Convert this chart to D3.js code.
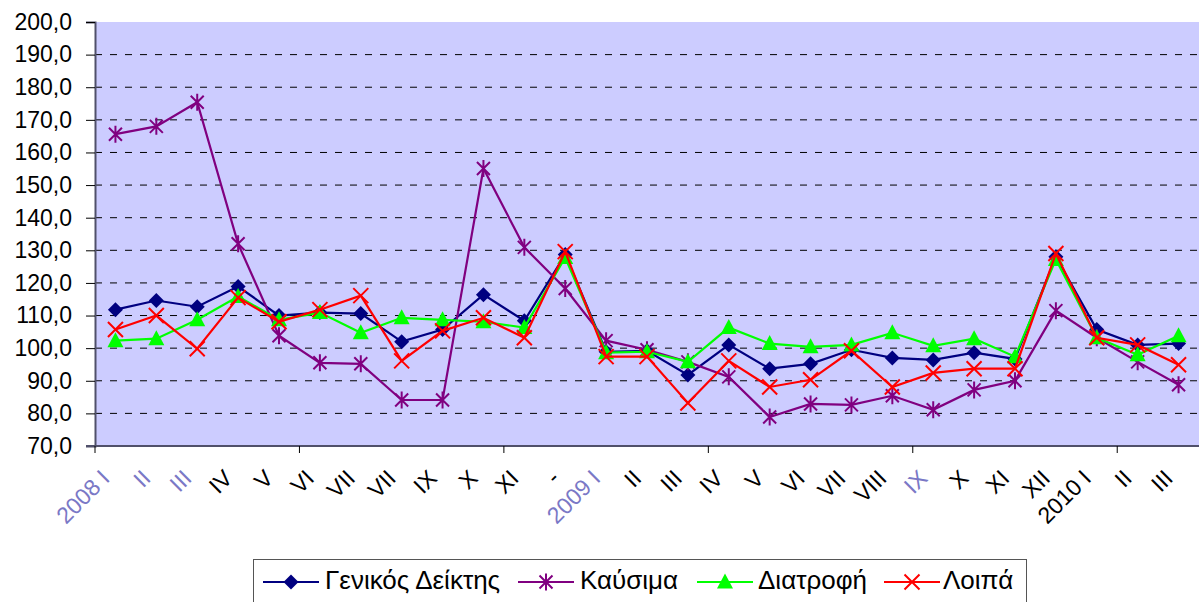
<!DOCTYPE html>
<html lang="el">

<head>
    <meta charset="UTF-8">
    <title>Δείκτες 2008-2010</title>
    <script src="https://d3js.org/d3.v7.min.js"></script>
    <style>
        body {
            margin: 0;
            background: #fff;
            font-family: 'Liberation Sans', Arial, sans-serif;
        }

        svg {
            display: block;
        }

        .grid line {
            stroke: #000;
            stroke-dasharray: 7, 8;
        }
    </style>
</head>

<body>
    <svg width="1203" height="602"></svg>
    <script>
        const width = 1203;
        const height = 602;

        // category labels (as printed on the chart)
        const months = ["2008 I", "II", "III", "IV", "V", "VI", "VII", "VII", "IX", "X", "XI", "-",
            "2009 I", "II", "III", "IV", "V", "VI", "VII", "VIII", "IX", "X", "XI", "XII",
            "2010 I", "II", "III"];
        // blurry labels in the original get a soft blue tone
        const fadedLabels = [0, 1, 2, 12, 20];

        const general = [111.8, 114.6, 112.7, 118.9, 110.0, 110.9, 110.6, 102.0, 105.7, 116.4, 108.4, 128.7,
            98.9, 99.2, 91.8, 101.0, 93.7, 95.2, 99.5, 97.0, 96.4, 98.6, 96.7, 128.0, 105.7, 101.0, 101.4];
        const fuel = [165.6, 168.0, 175.4, 132.0, 103.8, 95.5, 95.2, 84.1, 84.1, 155.1, 130.9, 118.3,
            102.3, 99.5, 95.8, 91.2, 78.9, 82.9, 82.6, 85.4, 81.1, 87.2, 90.0, 111.5, 103.2, 95.8, 88.8];
        const food = [102.3, 102.9, 108.7, 115.8, 108.7, 110.9, 104.7, 109.3, 108.7, 108.1, 106.3, 127.8,
            98.6, 98.9, 95.8, 106.3, 101.4, 100.4, 101.0, 104.7, 100.7, 102.9, 97.4, 127.2, 103.2, 98.0, 103.8];
        const other = [105.7, 110.0, 99.8, 115.5, 108.1, 111.8, 116.1, 96.1, 105.3, 109.3, 103.2, 129.6,
            97.4, 97.4, 83.2, 96.1, 88.1, 90.3, 99.2, 88.1, 92.4, 93.7, 93.7, 129.0, 103.2, 101.0, 94.9];

        const yTicks = d3.range(70, 201, 10);

        const series = [
            { name: "Γενικός Δείκτης", values: general, color: "#000080", symbol: "diamond" },
            { name: "Καύσιμα", values: fuel, color: "#800080", symbol: "star" },
            { name: "Διατροφή", values: food, color: "#00ff00", symbol: "triangle" },
            { name: "Λοιπά", values: other, color: "#ff0000", symbol: "cross" }
        ];

        const plot = { left: 95, right: 1199, top: 22, bottom: 446 };

        const x = d3.scaleBand()
            .domain(d3.range(months.length))
            .range([plot.left, plot.right]);

        const y = d3.scaleLinear()
            .domain([70, 200])
            .range([plot.bottom, plot.top]);

        const svg = d3.select("svg").attr("viewBox", `0 0 ${width} ${height}`);

        svg.append("rect")
            .attr("x", plot.left)
            .attr("y", plot.top)
            .attr("width", plot.right - plot.left)
            .attr("height", plot.bottom - plot.top)
            .attr("fill", "#ccccff");

        // dashed gridlines
        svg.append("g")
            .attr("class", "grid")
            .selectAll("line")
            .data(yTicks.filter(d => d > 70 && d < 200))
            .join("line")
            .attr("x1", plot.left)
            .attr("x2", plot.right)
            .attr("y1", d => y(d))
            .attr("y2", d => y(d));

        // y axis
        const gy = svg.append("g")
            .attr("transform", `translate(${plot.left},0)`)
            .call(d3.axisLeft(y)
                .tickValues(yTicks)
                .tickSize(9)
                .tickPadding(14)
                .tickFormat(d => d3.format(".1f")(d).replace(".", ",")));
        gy.select(".domain").attr("stroke", "#50506a").attr("stroke-width", 2);
        gy.selectAll(".tick line").attr("stroke", "#000");
        gy.selectAll("text")
            .attr("font-size", 23)
            .attr("font-family", "'Liberation Sans', Arial, sans-serif")
            .attr("fill", "#000");

        // x axis: line + tick marks every 5 categories
        const gx = svg.append("g")
            .attr("transform", `translate(0,${plot.bottom})`);
        gx.append("line")
            .attr("x1", plot.left - 9)
            .attr("x2", plot.right)
            .attr("stroke", "#50506a")
            .attr("stroke-width", 2);
        gx.selectAll(".xt")
            .data(d3.range(0, months.length + 1, 5))
            .join("line")
            .attr("class", "xt")
            .attr("x1", d => plot.left + d * x.step())
            .attr("x2", d => plot.left + d * x.step())
            .attr("y1", 0)
            .attr("y2", 7)
            .attr("stroke", "#000");

        gx.selectAll(".xl")
            .data(months)
            .join("text")
            .attr("class", "xl")
            .attr("transform", (d, i) => `translate(${x(i) + x.bandwidth() / 2 - 10},${28}) rotate(-45)`)
            .attr("text-anchor", "end")
            .attr("dy", "0.35em")
            .attr("font-size", 23)
            .attr("fill", (d, i) => fadedLabels.includes(i) ? "#7a78c6" : "#000")
            .text(d => d);

        const cx = i => x(i) + x.bandwidth() / 2;

        const line = d3.line()
            .x((d, i) => cx(i))
            .y(d => y(d));

        function drawMarker(g, symbol, color) {
            if (symbol === "diamond") {
                g.append("path")
                    .attr("d", "M0,-7.5L7.5,0L0,7.5L-7.5,0Z")
                    .attr("fill", color);
            } else if (symbol === "triangle") {
                g.append("path")
                    .attr("d", "M0,-8.5L8,6.5L-8,6.5Z")
                    .attr("fill", color);
            } else if (symbol === "cross") {
                g.append("path")
                    .attr("d", "M-7.5,-7.5L7.5,7.5M7.5,-7.5L-7.5,7.5")
                    .attr("stroke", color)
                    .attr("stroke-width", 2)
                    .attr("fill", "none");
            } else if (symbol === "star") {
                g.append("path")
                    .attr("d", "M-6.5,-6.5L6.5,6.5M6.5,-6.5L-6.5,6.5M0,-8.5L0,8.5")
                    .attr("stroke", color)
                    .attr("stroke-width", 2)
                    .attr("fill", "none");
            }
        }

        series.forEach(s => {
            const g = svg.append("g");
            g.append("path")
                .datum(s.values)
                .attr("d", line)
                .attr("fill", "none")
                .attr("stroke", s.color)
                .attr("stroke-width", 2.2);
            g.selectAll(".m")
                .data(s.values)
                .join("g")
                .attr("class", "m")
                .attr("transform", (d, i) => `translate(${cx(i)},${y(d)})`)
                .each(function () { drawMarker(d3.select(this), s.symbol, s.color); });
        });

        // legend
        const legend = svg.append("g");
        legend.append("rect")
            .attr("x", 253.5)
            .attr("y", 559.5)
            .attr("width", 773)
            .attr("height", 50)
            .attr("fill", "#fff")
            .attr("stroke", "#555");

        const legendX = [263, 518, 697, 884];
        const legendTextX = [325, 580, 758, 943];
        series.forEach((s, i) => {
            const g = legend.append("g").attr("transform", `translate(0,582)`);
            g.append("line")
                .attr("x1", legendX[i]).attr("x2", legendX[i] + 56)
                .attr("stroke", s.color)
                .attr("stroke-width", 2.2);
            const m = g.append("g").attr("transform", `translate(${legendX[i] + 28},0)`);
            drawMarker(m, s.symbol, s.color);
            g.append("text")
                .attr("x", legendTextX[i])
                .attr("y", 7)
                .attr("font-size", 26)
                .attr("fill", "#000")
                .text(s.name);
        });
    </script>
</body>

</html>
